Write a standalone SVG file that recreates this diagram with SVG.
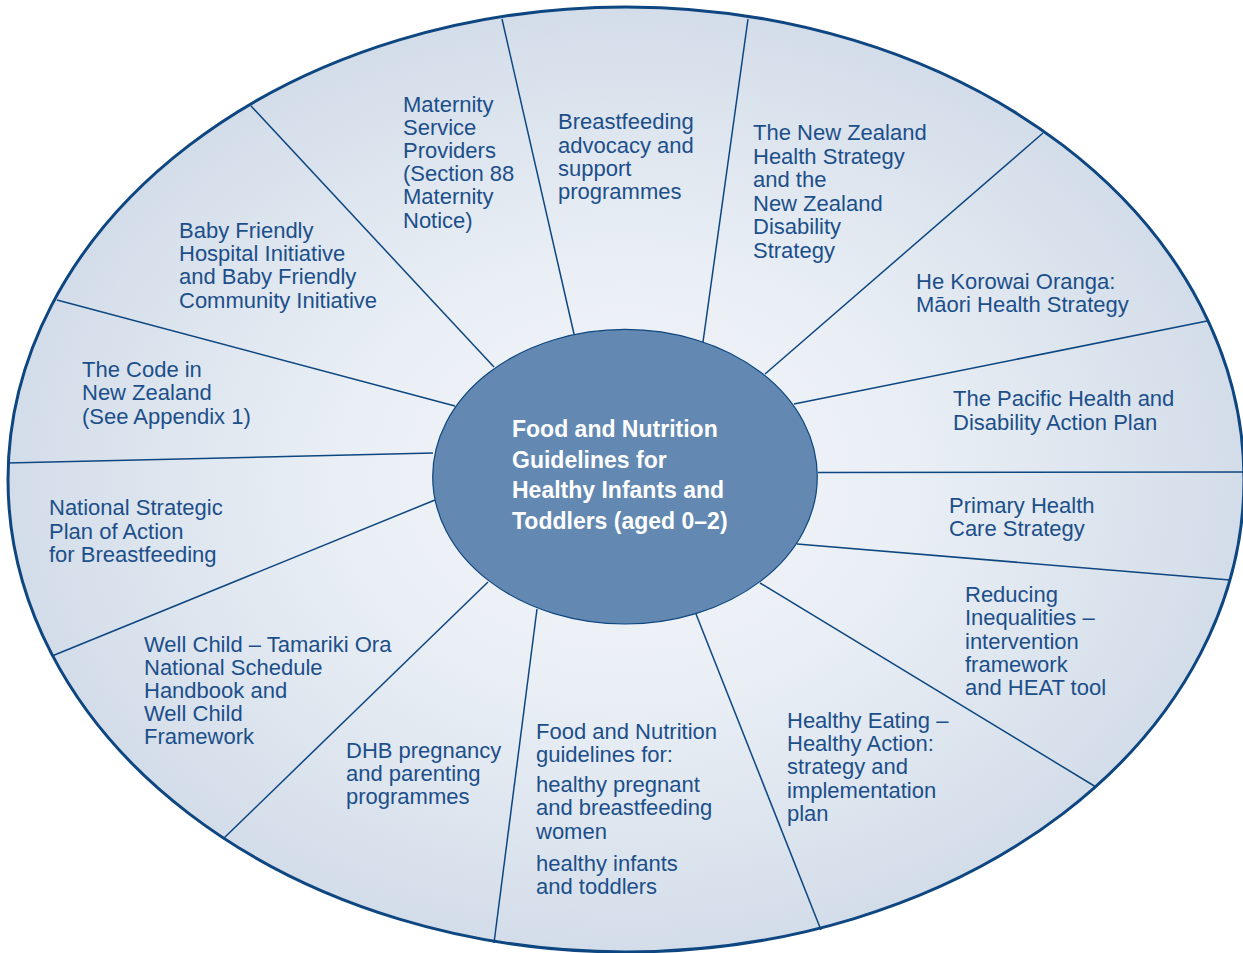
<svg xmlns="http://www.w3.org/2000/svg" width="1243" height="953" viewBox="0 0 1243 953">
<style>
.lbl{font-family:"Liberation Sans",Arial,sans-serif;font-size:22px;fill:#1c4f8a}
.title{font-family:"Liberation Sans",Arial,sans-serif;font-size:23px;font-weight:bold;fill:#ffffff}
.spoke{stroke:#0d4680;stroke-width:1.5;fill:none}
</style>
<defs>
<radialGradient id="bg" cx="0.5" cy="0.5" r="0.5">
<stop offset="0" stop-color="#f3f6fa"/>
<stop offset="0.45" stop-color="#eaeff5"/>
<stop offset="1" stop-color="#d3dde9"/>
</radialGradient>
</defs>
<rect width="1243" height="953" fill="#ffffff"/>
<g id="outer">
<ellipse cx="626" cy="479.5" rx="618" ry="472.5" fill="url(#bg)" stroke="#0d4680" stroke-width="3"/>
</g>
<g id="connectors">
<line class="spoke" x1="502" y1="19" x2="574" y2="334"/>
<line class="spoke" x1="748" y1="19" x2="703" y2="342"/>
<line class="spoke" x1="1043" y1="133" x2="765" y2="374"/>
<line class="spoke" x1="1207" y1="321" x2="794" y2="404"/>
<line class="spoke" x1="1244" y1="472" x2="818" y2="472.5"/>
<line class="spoke" x1="1230" y1="580" x2="797" y2="544"/>
<line class="spoke" x1="1096" y1="787" x2="760" y2="583"/>
<line class="spoke" x1="821" y1="930" x2="696" y2="614"/>
<line class="spoke" x1="494" y1="943" x2="537" y2="609"/>
<line class="spoke" x1="223" y1="839" x2="488" y2="582"/>
<line class="spoke" x1="52" y1="656" x2="435" y2="500"/>
<line class="spoke" x1="7" y1="463" x2="433" y2="453"/>
<line class="spoke" x1="57" y1="300" x2="455" y2="406"/>
<line class="spoke" x1="251" y1="106" x2="494" y2="367"/>
</g>
<g id="center">
<ellipse cx="625" cy="476.7" rx="192.3" ry="147.3" fill="#6389b2" stroke="#0d4680" stroke-width="1.2"/>
<text class="title" x="512" y="437">Food and Nutrition</text>
<text class="title" x="512" y="467.5">Guidelines for</text>
<text class="title" x="512" y="498">Healthy Infants and</text>
<text class="title" x="512" y="528.5">Toddlers (aged 0–2)</text>
</g>
<g id="maternity">
<text class="lbl" x="403" y="112">Maternity</text>
<text class="lbl" x="403" y="135">Service</text>
<text class="lbl" x="403" y="158">Providers</text>
<text class="lbl" x="403" y="181">(Section 88</text>
<text class="lbl" x="403" y="204">Maternity</text>
<text class="lbl" x="403" y="227.5">Notice)</text>
</g>
<g id="breastfeeding-advocacy">
<text class="lbl" x="558" y="129">Breastfeeding</text>
<text class="lbl" x="558" y="152.5">advocacy and</text>
<text class="lbl" x="558" y="175.5">support</text>
<text class="lbl" x="558" y="199">programmes</text>
</g>
<g id="nz-health-strategy">
<text class="lbl" x="753" y="140">The New Zealand</text>
<text class="lbl" x="753" y="163.5">Health Strategy</text>
<text class="lbl" x="753" y="187">and the</text>
<text class="lbl" x="753" y="210.5">New Zealand</text>
<text class="lbl" x="753" y="234">Disability</text>
<text class="lbl" x="753" y="257.5">Strategy</text>
</g>
<g id="he-korowai">
<text class="lbl" x="916" y="288.5">He Korowai Oranga:</text>
<text class="lbl" x="916" y="311.5">Māori Health Strategy</text>
</g>
<g id="pacific">
<text class="lbl" x="953" y="406">The Pacific Health and</text>
<text class="lbl" x="953" y="430">Disability Action Plan</text>
</g>
<g id="primary-health">
<text class="lbl" x="949" y="512.5">Primary Health</text>
<text class="lbl" x="949" y="536">Care Strategy</text>
</g>
<g id="reducing-inequalities">
<text class="lbl" x="965" y="602">Reducing</text>
<text class="lbl" x="965" y="625">Inequalities –</text>
<text class="lbl" x="965" y="648.5">intervention</text>
<text class="lbl" x="965" y="671.5">framework</text>
<text class="lbl" x="965" y="695">and HEAT tool</text>
</g>
<g id="healthy-eating">
<text class="lbl" x="787" y="727.5">Healthy Eating –</text>
<text class="lbl" x="787" y="750.5">Healthy Action:</text>
<text class="lbl" x="787" y="774">strategy and</text>
<text class="lbl" x="787" y="797.5">implementation</text>
<text class="lbl" x="787" y="820.5">plan</text>
</g>
<g id="fn-guidelines">
<text class="lbl" x="536" y="738.5">Food and Nutrition</text>
<text class="lbl" x="536" y="761.5">guidelines for:</text>
<text class="lbl" x="536" y="792">healthy pregnant</text>
<text class="lbl" x="536" y="815">and breastfeeding</text>
<text class="lbl" x="536" y="839">women</text>
<text class="lbl" x="536" y="870.5">healthy infants</text>
<text class="lbl" x="536" y="893.5">and toddlers</text>
</g>
<g id="dhb">
<text class="lbl" x="346" y="757.5">DHB pregnancy</text>
<text class="lbl" x="346" y="780.5">and parenting</text>
<text class="lbl" x="346" y="803.5">programmes</text>
</g>
<g id="well-child">
<text class="lbl" x="144" y="651.5">Well Child – Tamariki Ora</text>
<text class="lbl" x="144" y="674.5">National Schedule</text>
<text class="lbl" x="144" y="697.5">Handbook and</text>
<text class="lbl" x="144" y="720.5">Well Child</text>
<text class="lbl" x="144" y="743.5">Framework</text>
</g>
<g id="national-strategic">
<text class="lbl" x="49" y="515">National Strategic</text>
<text class="lbl" x="49" y="538.5">Plan of Action</text>
<text class="lbl" x="49" y="561.5">for Breastfeeding</text>
</g>
<g id="code-nz">
<text class="lbl" x="82" y="377">The Code in</text>
<text class="lbl" x="82" y="400">New Zealand</text>
<text class="lbl" x="82" y="423.5">(See Appendix 1)</text>
</g>
<g id="baby-friendly">
<text class="lbl" x="179" y="237.5">Baby Friendly</text>
<text class="lbl" x="179" y="261">Hospital Initiative</text>
<text class="lbl" x="179" y="284">and Baby Friendly</text>
<text class="lbl" x="179" y="307.5">Community Initiative</text>
</g>
</svg>
